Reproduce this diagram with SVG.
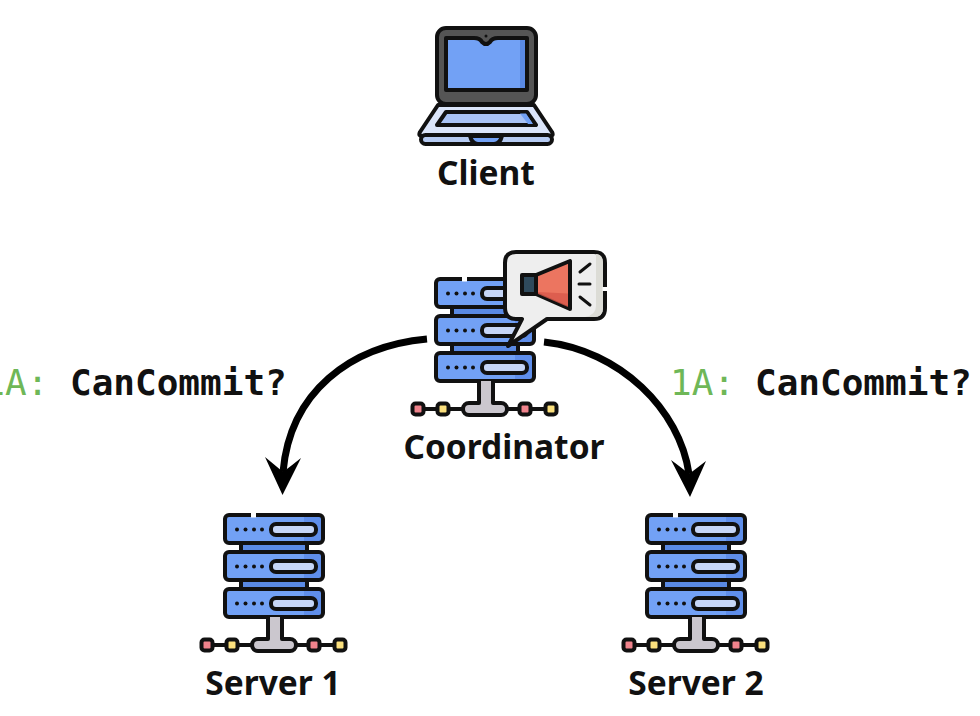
<svg xmlns="http://www.w3.org/2000/svg" xmlns:xlink="http://www.w3.org/1999/xlink" width="980" height="716" viewBox="0 0 980 716">
<style>
.o{stroke:#111;stroke-width:4;stroke-linejoin:round;stroke-linecap:round}
.b{fill:#72a1f5}.d{fill:#5a8ae4}.l{fill:#c6d6f7}
.dot{fill:#111}
.lab{font-family:"Noto Sans","Open Sans",sans-serif;font-weight:700;font-size:33.500px;fill:#111;text-anchor:middle}
.mono{font-family:"DejaVu Sans Mono","Liberation Mono",monospace;font-size:36px;fill:#111}
.g{fill:#6fb757}.k{font-weight:700}
.arc{fill:none;stroke:#000;stroke-width:7}
</style>
<defs>
<g id="unit">
<rect class="b" x="225" y="0" width="98" height="28" rx="4"/>
<path d="M304 2H321V26H304Z" fill="#5f8eea"/>
<rect class="o" x="225" y="0" width="98" height="28" rx="4" fill="none"/>
<rect class="o l" x="271" y="9" width="45" height="11" rx="5"/>
<circle class="dot" cx="237" cy="14.500" r="2"/><circle class="dot" cx="245.500" cy="14.500" r="2"/><circle class="dot" cx="254" cy="14.500" r="2"/><circle class="dot" cx="262" cy="14.500" r="2"/>
</g>
<g id="server">
<rect class="o d" x="241" y="540" width="66" height="14"/>
<rect class="o d" x="241" y="577" width="66" height="14"/>
<use xlink:href="#unit" href="#unit" y="515"/>
<use xlink:href="#unit" href="#unit" y="552"/>
<use xlink:href="#unit" href="#unit" y="589"/>
<path d="M251 515H256" stroke="#fff" stroke-width="5"/>
<path class="o" d="M268 617V639H258a6 6 0 0 0 0 12H290a6 6 0 0 0 0-12H282V617" fill="#cbc7ce"/>
<path class="o" d="M213 645H226M238 645H252M296 645H308M320 645H334" fill="none"/>
<rect class="o" x="201.500" y="639.500" width="11" height="11" rx="3" fill="#f0838c"/>
<rect class="o" x="226.500" y="639.500" width="11" height="11" rx="3" fill="#fbe07d"/>
<rect class="o" x="308.500" y="639.500" width="11" height="11" rx="3" fill="#f0838c"/>
<rect class="o" x="334.500" y="639.500" width="11" height="11" rx="3" fill="#fbe07d"/>
</g>
</defs>

<g id="client">
<rect class="o" x="437" y="28" width="99" height="76" rx="9" fill="#555"/>
<path class="o" d="M446 38H474Q480 38 482 42Q486 46 490 42Q492 38 498 38H527V90H446Z" fill="#72a1f5"/>
<path d="M520 40H525V88H520Z" fill="#5a8ae4"/>
<circle cx="486" cy="36" r="1.500" fill="#111"/>
<path class="o" d="M438 105H534L552 132Q554 136 550 136H422Q418 136 420 132Z" fill="#dbe5fa"/>
<path class="o" d="M446 112H527L536 125H437Z" fill="#a9c3f5"/>
<path d="M520 113.500H526L533 124H528Z" fill="#72a1f5"/>
<rect class="o" x="421" y="135" width="131" height="9" rx="4.500" fill="#b6cbf3"/>
<path class="o" d="M470 136H502Q500 144 494 144H478Q472 144 470 136Z" fill="#72a1f5"/>
<text class="lab" x="486" y="185">Client</text>
</g>

<g id="coordinator">
<use xlink:href="#server" href="#server" x="211" y="-236"/>
<path class="o" d="M516 252H594Q605 252 605 263V308Q605 319 594 319H547L508 346L522 319H516Q505 319 505 308V263Q505 252 516 252Z" fill="#eeeeee"/>
<path d="M596 254Q603 254 603 263V308Q603 317 594 317H585Q596 315 596 306Z" fill="#dcdcd6"/>
<path d="M605 287V291" stroke="#fff" stroke-width="5"/>
<path d="M522 275H536V294H522Z" fill="#2f4a5c" class="o"/>
<path class="o" d="M536 275L570 261V309L536 294Z" fill="#ec7560"/>
<path d="M538 292L568 293.500V307L538 294Z" fill="#d9594b" opacity=".8"/>
<path class="o" d="M580 272L590 264M579 284H590M580 297L590 305" fill="none" style="stroke-width:3"/>
<text class="lab" x="504" y="459">Coordinator</text>
</g>

<g id="server-1">
<use xlink:href="#server" href="#server"/>
<text class="lab" x="273" y="695">Server 1</text>
</g>

<g id="server-2">
<use xlink:href="#server" href="#server" x="422"/>
<text class="lab" x="696" y="695">Server 2</text>
</g>

<g id="connectors">
<path class="arc" d="M427 339C350 346 290 392 283 472"/>
<path d="M282.500 495L265 457Q276 466 283 472Q291 466 301 458Z" fill="#000"/>
<path class="arc" d="M544 342C620 350 680 410 689 474"/>
<path d="M690 497L671 460Q682 468 689 474Q697 468 706 461Z" fill="#000"/>
</g>

<g id="labels">
<text class="mono" x="-16.700" y="395"><tspan class="g">1A:</tspan><tspan class="k" x="70">CanCommit?</tspan></text>
<text class="mono" x="670" y="395"><tspan class="g">1A:</tspan><tspan class="k" x="755">CanCommit?</tspan></text>
</g>
</svg>
